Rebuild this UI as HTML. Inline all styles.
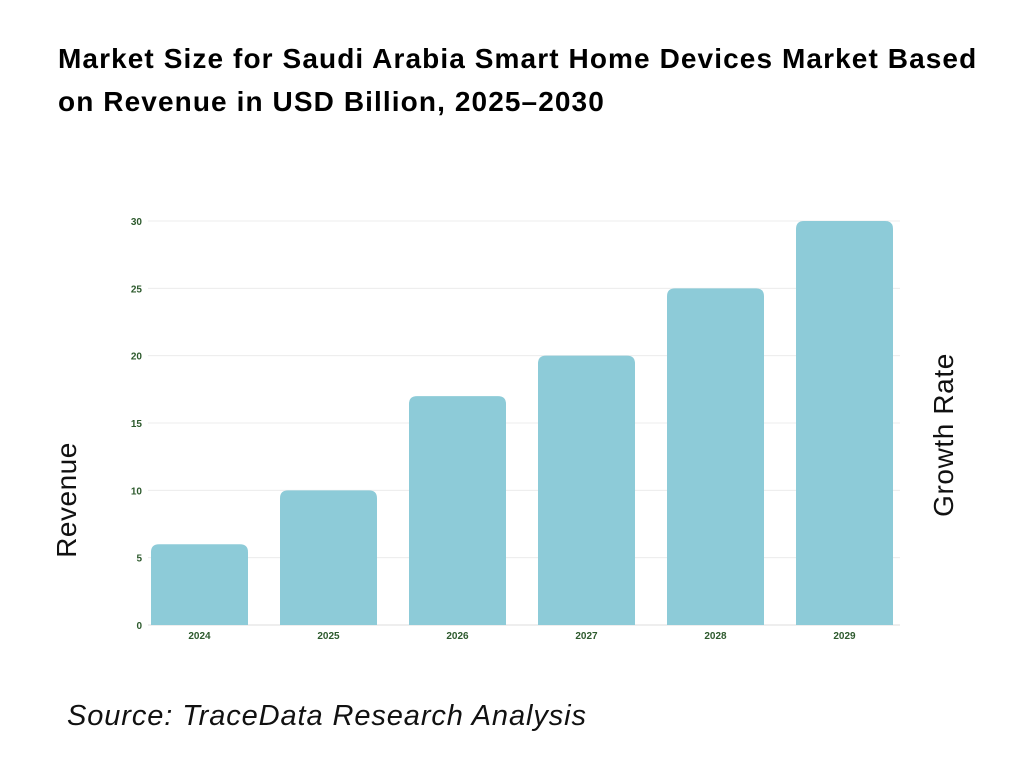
<!DOCTYPE html>
<html><head><meta charset="utf-8"><style>
body{margin:0;width:1024px;height:768px;background:#fff;font-family:"Liberation Sans",sans-serif;position:relative;overflow:hidden}
#title{position:absolute;left:58px;top:37px;font-size:28px;font-weight:bold;line-height:43px;color:#000;letter-spacing:1.1px;white-space:nowrap}
#source{position:absolute;left:67px;top:700px;font-size:29px;font-style:italic;color:#111;letter-spacing:0.9px;white-space:nowrap}
svg{position:absolute;left:0;top:0}
</style></head><body>
<div id="title">Market Size for Saudi Arabia Smart Home Devices Market Based<br>on Revenue in USD Billion, 2025–2030</div>
<svg id="chart" width="1024" height="768">
<text x="76" y="500" transform="rotate(-90 76 500)" text-anchor="middle" font-size="28" fill="#111" font-family="Liberation Sans, sans-serif" letter-spacing="0.5">Revenue</text>
<text x="953" y="435" transform="rotate(-90 953 435)" text-anchor="middle" font-size="28" fill="#111" font-family="Liberation Sans, sans-serif" letter-spacing="0.6">Growth Rate</text>
</svg>
<div id="source">Source: TraceData Research Analysis</div>
<script>
const categories=["2024","2025","2026","2027","2028","2029"];
const revenue=[6,10,17,20,25,30];
const yTicks=[0,5,10,15,20,25,30];
const svg=document.getElementById('chart');
const NS="http://www.w3.org/2000/svg";
const y0=625,yTop=221,yMax=30,xL=148,xR=900,step=129,bw=97,x0=151;
const y=v=>y0-(v/yMax)*(y0-yTop);
const x=i=>x0+i*step;
function mk(t,a){const e=document.createElementNS(NS,t);for(const k in a)e.setAttribute(k,a[k]);svg.appendChild(e);return e;}
yTicks.forEach(t=>{
 const l=mk('line',{x1:xL,x2:xR,y1:y(t),y2:y(t),stroke:t===0?'#ddd':'#ececec','stroke-width':1});
 
 
 const tx=mk('text',{x:142,y:y(t)+4,'text-anchor':'end','font-size':10,'font-weight':'bold',fill:'#2d5a2d','font-family':'Liberation Sans, sans-serif'});
 tx.textContent=t;
 
 
});
categories.forEach((c,i)=>{
 const top=y(revenue[i]),r=8;
 const d=`M${x(i)},${y0} V${top+r} Q${x(i)},${top} ${x(i)+r},${top} H${x(i)+bw-r} Q${x(i)+bw},${top} ${x(i)+bw},${top+r} V${y0} Z`;
 const b=mk('path',{d:d,fill:'#8dcbd8'});
 
 
 const tx=mk('text',{x:x(i)+bw/2,y:y0+14,'text-anchor':'middle','font-size':10,'font-weight':'bold',fill:'#2d5a2d','font-family':'Liberation Sans, sans-serif'});
 tx.textContent=c;
 
 
});
</script>
</body></html>
